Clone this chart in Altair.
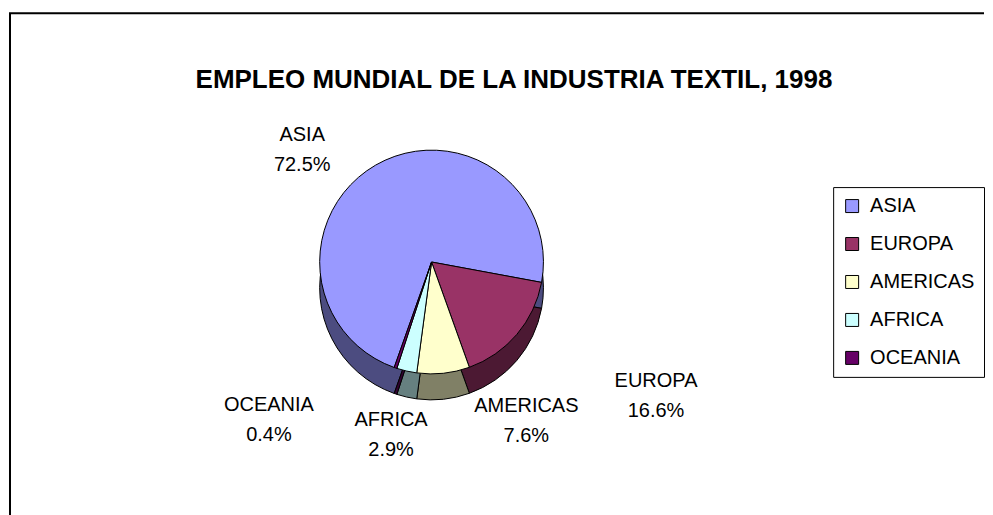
import math
import altair as alt
import pandas as pd

# ---- data -------------------------------------------------------------
regions = ["ASIA", "EUROPA", "AMERICAS", "AFRICA", "OCEANIA"]
shares = [72.5, 16.6, 7.6, 2.9, 0.4]
top_colors = ["#9999FF", "#993366", "#FFFFCC", "#CCFFFF", "#660066"]
side_colors = ["#4C4C80", "#4C1933", "#808066", "#668080", "#330033"]
title_text = "EMPLEO MUNDIAL DE LA INDUSTRIA TEXTIL, 1998"

df = pd.DataFrame({
    "region": regions,
    "share": shares,
    "idx": list(range(len(regions))),
    "label": [f"{r}\n{s:.1f}%" for r, s in zip(regions, shares)],
})

# ---- style ------------------------------------------------------------
FONT = "Liberation Sans"
W, H = 975, 510
START = math.radians(199.5)
theta_scale = alt.Scale(domain=[0, 100], range=[START, START + 2 * math.pi])
CX, CY = 422, 249          # pie centre inside the plot frame
R, DEPTH = 112, 26
# label placement (radius from centre, horizontal nudge)
label_style = {
    "ASIA": (129, -65),
    "EUROPA": (207, 67),
    "AMERICAS": (160, 78),
    "AFRICA": (178, -1),
    "OCEANIA": (167, -109),
}

side = alt.Chart(df).mark_arc(outerRadius=R, stroke="black", strokeWidth=1).encode(
    theta=alt.Theta("share:Q", stack=True, scale=theta_scale),
    order=alt.Order("idx:Q"),
    color=alt.Color("region:N", scale=alt.Scale(domain=regions, range=side_colors), legend=None),
    x=alt.value(CX),
    y=alt.value(CY + DEPTH),
)

top = alt.Chart(df).mark_arc(outerRadius=R, stroke="black", strokeWidth=1).encode(
    theta=alt.Theta("share:Q", stack=True, scale=theta_scale),
    order=alt.Order("idx:Q"),
    color=alt.Color(
        "region:N",
        scale=alt.Scale(domain=regions, range=top_colors),
        legend=alt.Legend(
            title=None,
            orient="none",
            legendX=824,
            legendY=174,
            symbolType="square",
            symbolSize=169,
            symbolStrokeColor="black",
            symbolStrokeWidth=1,
            symbolOpacity=1,
            labelFont=FONT,
            labelFontSize=20,
            labelColor="black",
            labelOffset=8,
            rowPadding=18,
            padding=9,
            strokeColor="black",
            fillColor="white",
        ),
    ),
    x=alt.value(CX),
    y=alt.value(CY),
)

label_base = (
    alt.Chart(df)
    .transform_window(cum="sum(share)", sort=[alt.SortField("idx")])
    .transform_calculate(mid="datum.cum - datum.share / 2")
)

texts = []
for r in regions:
    rad, dx = label_style[r]
    texts.append(
        label_base.transform_filter(alt.datum.region == r)
        .mark_text(
            radius=rad, dx=dx, dy=-15, font=FONT, fontSize=20, color="black",
            lineBreak="\n", lineHeight=30, align="center", baseline="middle",
        )
        .encode(
            theta=alt.Theta("mid:Q", stack=None, scale=theta_scale),
            text="label:N",
            x=alt.value(CX),
            y=alt.value(CY),
        )
    )

chart = (
    alt.layer(side, top, *texts)
    .resolve_scale(color="independent")
    .properties(
        width=W,
        height=H,
        padding={"left": 2, "top": 5, "right": 0, "bottom": 0},
        background="white",
        title=alt.TitleParams(
            title_text,
            font=FONT,
            fontSize=26,
            fontWeight="bold",
            color="black",
            anchor="middle",
            frame="group",
            dx=17,
            baseline="alphabetic",
            offset=-101,
        ),
    )
    # frame: draw only the top and left edges of the view outline
    .configure_view(stroke="black", strokeWidth=2, strokeDash=[W, H + W, H + 2])
)

chart.save("out.html", embed_options={"renderer": "svg", "actions": False})
